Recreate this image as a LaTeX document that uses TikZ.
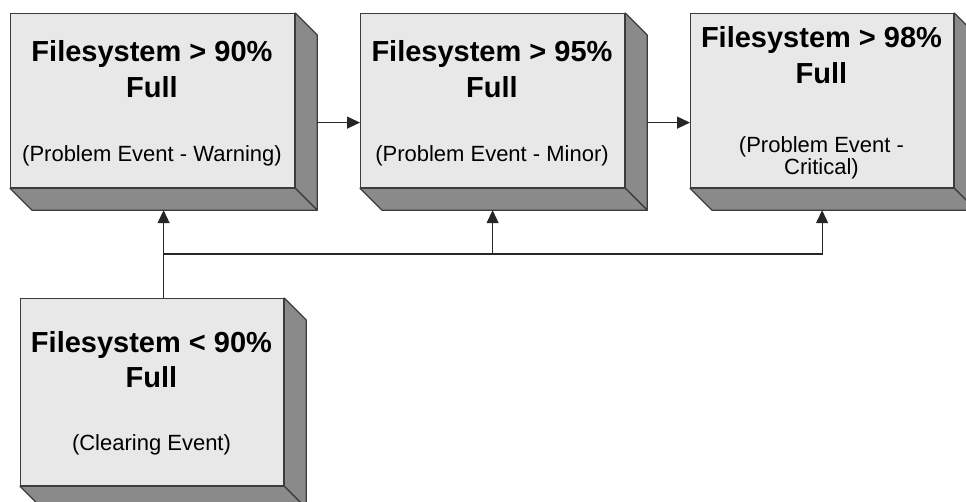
\documentclass[tikz,border=0pt]{standalone}
\usepackage{fontspec}
\setmainfont{Liberation Sans}
\usetikzlibrary{arrows.meta}
\definecolor{facegray}{RGB}{232,232,232}
\definecolor{sidegray}{RGB}{138,138,138}
\definecolor{edgegray}{RGB}{60,60,60}
\newcommand\cubesides[1]{%
  \draw[sidepoly] (#1.north east) -- ++(22,22) -- ([shift={(22,22)}]#1.south east) -- (#1.south east) -- cycle;
  \draw[sidepoly] (#1.south west) -- (#1.south east) -- ++(22,22) -- ([shift={(22,22)}]#1.south west) -- cycle;
}
\begin{document}
\begin{tikzpicture}[x=1pt,y=-1pt,
  face/.style={draw=edgegray, fill=facegray, line width=1.2pt, anchor=north west, inner sep=0pt},
  sidepoly/.style={draw=edgegray, fill=sidegray, line width=1.2pt, line join=round},
  ttl/.style={font=\fontsize{29}{35}\selectfont\bfseries, anchor=base, inner sep=0pt},
  sub/.style={font=\fontsize{22}{26}\selectfont, anchor=base, inner sep=0pt},
  conn/.style={draw=black!85, line width=1.2pt},
  arr/.style={conn, -{Triangle[length=13pt,width=12pt]}}
]
\useasboundingbox (0,0) rectangle (966,501);
\clip (0,0) rectangle (966,501);
\fill[white] (0,0) rectangle (966,501);

% boxes (front faces)
\node[face, minimum width=284pt, minimum height=174pt] (b1) at (10,13) {};
\node[face, minimum width=264pt, minimum height=174pt] (b2) at (360,13) {};
\node[face, minimum width=263pt, minimum height=174pt] (b3) at (690,13) {};
\node[face, minimum width=263pt, minimum height=187pt] (b4) at (20,298) {};
\cubesides{b1}
\cubesides{b2}
\cubesides{b3}
\cubesides{b4}

% texts
\node[ttl] (t1a) at (152,61) {Filesystem > 90\%};
\node[ttl] (t1b) at (152,97) {Full};
\node[sub] (s1a) at (152,161) {(Problem Event - Warning)};

\node[ttl] (t2a) at (492,61) {Filesystem > 95\%};
\node[ttl] (t2b) at (492,97) {Full};
\node[sub] (s2a) at (492,161) {(Problem Event - Minor)};

\node[ttl] (t3a) at (821.5,47) {Filesystem > 98\%};
\node[ttl] (t3b) at (821.5,83) {Full};
\node[sub] (s3a) at (821.5,152) {(Problem Event -};
\node[sub] (s3b) at (821.5,174) {Critical)};

\node[ttl] (t4a) at (151.5,352) {Filesystem < 90\%};
\node[ttl] (t4b) at (151.5,387) {Full};
\node[sub] (s4a) at (151.5,450) {(Clearing Event)};

% connectors
\coordinate (b1r) at ([shift={(22,22)}]b1.east);
\coordinate (b2r) at ([shift={(22,22)}]b2.east);
\draw[arr] (b1r) -- (b1r -| b2.west);
\draw[arr] (b2r) -- (b2r -| b3.west);

\coordinate (b4t) at ([shift={(11.5,0)}]b4.north);
\coordinate (b1k) at ([shift={(0,22)}]b1.south);
\coordinate (b2k) at ([shift={(0,22)}]b2.south);
\coordinate (b3k) at ([shift={(0,22)}]b3.south);
\coordinate (jl) at (163,254);
\draw[arr] (b4t) -- (b4t |- b1k);
\draw[arr] (jl) -| (b3k);
\draw[arr] (jl -| b2k) -- (b2k);
\end{tikzpicture}
\end{document}
